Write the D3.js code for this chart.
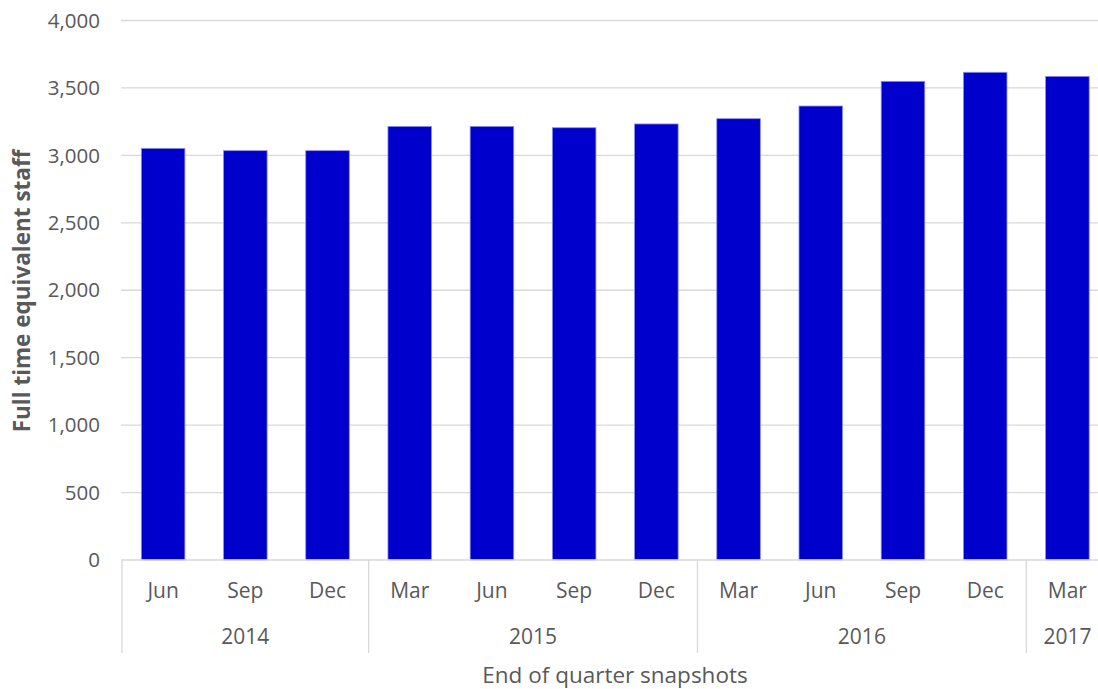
<!DOCTYPE html>
<html>
<head>
<meta charset="utf-8">
<script src="https://cdn.jsdelivr.net/npm/d3@7"></script>
<style>
  html, body { margin: 0; padding: 0; background: #fff; }
  svg { display: block; font-family: "Open Sans", Lato, sans-serif; }
</style>
</head>
<body>
<svg id="chart" width="1098" height="689"></svg>
<script>
const months = ["Jun","Sep","Dec","Mar","Jun","Sep","Dec","Mar","Jun","Sep","Dec","Mar"];
const years = ["2014","2014","2014","2015","2015","2015","2015","2016","2016","2016","2016","2017"];
const staff = [3052, 3035, 3035, 3215, 3215, 3205, 3233, 3272, 3366, 3549, 3616, 3586];
const yTicks = [0, 500, 1000, 1500, 2000, 2500, 3000, 3500, 4000];
const yearGroups = ["2014","2015","2016","2017"];

(function () {
const svg = d3.select("#chart");
const pLeft = 122, pRight = 1108.5, pTop = 20.5, pBottom = 560;
const grey = "#595959", lineGrey = "#d9d9d9";

const ids = months.map((m, i) => i);
const x = d3.scaleBand().domain(ids).range([pLeft, pRight]).paddingInner(0.47).paddingOuter(0.235);
const xb = d3.scaleBand().domain(ids).range([pLeft, pRight]).padding(0);
const y = d3.scaleLinear().domain([0, 4000]).range([pBottom, pTop]);

// gridlines
svg.append("g").selectAll("line").data(yTicks.filter(t => t > 0)).join("line")
  .attr("x1", pLeft - 1).attr("x2", 1098)
  .attr("y1", d => y(d)).attr("y2", d => y(d))
  .attr("stroke", lineGrey).attr("stroke-width", 1.3);

// y tick labels
const fmt = d3.format(",");
svg.append("g").selectAll("text").data(yTicks).join("text")
  .attr("x", 100).attr("y", d => y(d)).attr("dy", "0.35em")
  .attr("text-anchor", "end").attr("fill", grey).attr("font-size", 20.5)
  .text(d => fmt(d));

// bars
svg.append("g").selectAll("rect").data(staff).join("rect")
  .attr("x", (d, i) => x(i)).attr("width", x.bandwidth())
  .attr("y", d => y(d)).attr("height", d => y(0) - y(d))
  .attr("fill", "#0000cc").attr("stroke", "#8f8fe8").attr("stroke-width", 0.8);

// x axis line
svg.append("line").attr("x1", pLeft - 1).attr("x2", 1098)
  .attr("y1", pBottom).attr("y2", pBottom).attr("stroke", lineGrey).attr("stroke-width", 1.3);

// group separators
const groupBounds = [];
yearGroups.forEach(g => {
  const idx = ids.filter(i => years[i] === g);
  groupBounds.push({ g, start: xb(idx[0]), end: xb(idx[idx.length - 1]) + xb.bandwidth() });
});
const seps = [pLeft].concat(groupBounds.map(b => b.end));
svg.append("g").selectAll("line").data(seps).join("line")
  .attr("x1", d => d).attr("x2", d => d)
  .attr("y1", pBottom).attr("y2", 653)
  .attr("stroke", lineGrey).attr("stroke-width", 1.3);

// month labels
svg.append("g").selectAll("text").data(months).join("text")
  .attr("x", (d, i) => xb(i) + xb.bandwidth() / 2).attr("y", 591).attr("dy", "0.35em")
  .attr("text-anchor", "middle").attr("fill", grey).attr("font-size", 21)
  .text(d => d);

// year labels
svg.append("g").selectAll("text").data(groupBounds).join("text")
  .attr("x", d => (d.start + d.end) / 2).attr("y", 637).attr("dy", "0.35em")
  .attr("text-anchor", "middle").attr("fill", grey).attr("font-size", 21)
  .text(d => d.g);

// axis titles
svg.append("text").attr("x", 615).attr("y", 675).attr("dy", "0.35em")
  .attr("text-anchor", "middle").attr("fill", grey).attr("font-size", 22.5)
  .text("End of quarter snapshots");

svg.append("text").attr("transform", "translate(22,291) rotate(-90)").attr("dy", "0.35em")
  .attr("text-anchor", "middle").attr("fill", grey).attr("font-size", 22.5).attr("font-weight", "bold")
  .text("Full time equivalent staff");
})();
</script>
</body>
</html>
